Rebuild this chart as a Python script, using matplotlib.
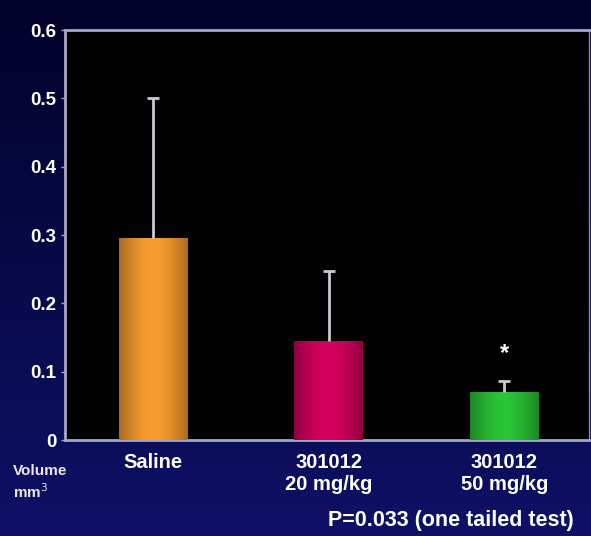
import numpy as np
import matplotlib
matplotlib.use("Agg")
import matplotlib.pyplot as plt
from matplotlib.colors import to_rgb

# Data
categories = ["Saline", "301012\n20 mg/kg", "301012\n50 mg/kg"]
volumes = [0.295, 0.145, 0.070]
errors_upper = [0.205, 0.102, 0.017]
bar_colors = ["#f89c30", "#d4005e", "#2ac436"]
y_ticks = [0, 0.1, 0.2, 0.3, 0.4, 0.5, 0.6]
y_tick_labels = ["0", "0.1", "0.2", "0.3", "0.4", "0.5", "0.6"]

plt.rcParams['font.family'] = ['Liberation Sans', 'DejaVu Sans']

fig = plt.figure(figsize=(5.91, 5.36), dpi=100)

# navy background gradient
bg = fig.add_axes([0, 0, 1, 1], zorder=-10)
top = np.array(to_rgb("#02022a"))
bot = np.array(to_rgb("#0e1166"))
t = np.linspace(0, 1, 256)[:, None]
grad = top[None, :] * (1 - t) + bot[None, :] * t
grad = np.repeat(grad[:, None, :], 2, axis=1)
bg.imshow(grad, aspect="auto", extent=[0, 1, 0, 1], origin="upper")
bg.set_axis_off()

ax = fig.add_axes([0.110, 0.179, 0.886, 0.765])
ax.set_facecolor("black")

x = np.arange(len(categories))
bars = ax.bar(x, volumes, width=0.39, color=bar_colors, zorder=2)

# smooth cylinder-like horizontal shading on each bar
s = np.linspace(-1, 1, 200)
shade = 0.68 + 0.32 * np.cos(s * np.pi / 2)
for b, c in zip(bars, bar_colors):
    rgb = np.array(to_rgb(c))
    img = np.clip(rgb[None, :] * shade[:, None], 0, 1)[None, :, :]
    x0, y0 = b.get_x(), b.get_y()
    w, h = b.get_width(), b.get_height()
    im = ax.imshow(img, aspect="auto", extent=[x0, x0 + w, y0, y0 + h],
                   zorder=3, interpolation="bilinear")
    im.set_clip_path(b)

_, caps, _ = ax.errorbar(x, volumes, yerr=[np.zeros(len(volumes)), errors_upper],
                         fmt="none", ecolor="#c9c9d4", elinewidth=2, capsize=4.5,
                         capthick=2, zorder=4)
# keep only the upper caps
caps[0].set_visible(False)

ax.text(x[2], volumes[2] + errors_upper[2] + 0.04, "*", color="white",
        ha="center", va="center", fontsize=17, fontweight="bold")

ax.set_xlim(-0.5, 2.48)
ax.set_ylim(0, 0.6)
ax.set_yticks(y_ticks)
ax.set_yticklabels(y_tick_labels)
ax.set_xticks(x)
ax.set_xticklabels(categories, linespacing=1.25)

for sp in ["left", "bottom", "top"]:
    ax.spines[sp].set_color("#a8a8c4")
    ax.spines[sp].set_linewidth(2)
ax.spines["right"].set_color("#8888aa")
ax.spines["right"].set_linewidth(1)

ax.tick_params(axis="y", colors="#a8a8c4", labelcolor="white", length=3,
               width=1, labelsize=13.5, pad=3)
ax.tick_params(axis="x", length=0, labelcolor="white", labelsize=14.5, pad=9)
for lab in ax.get_yticklabels() + ax.get_xticklabels():
    lab.set_fontweight("bold")

fig.text(0.022, 0.100, "Volume\nmm$^3$", color="#e8e8f0", fontsize=11,
         fontweight="bold", ha="left", va="center", linespacing=1.25)
fig.text(0.763, 0.028, "P=0.033 (one tailed test)", color="white",
         fontsize=15.5, fontweight="bold", ha="center", va="center")

fig.savefig("out.png", dpi=100)
